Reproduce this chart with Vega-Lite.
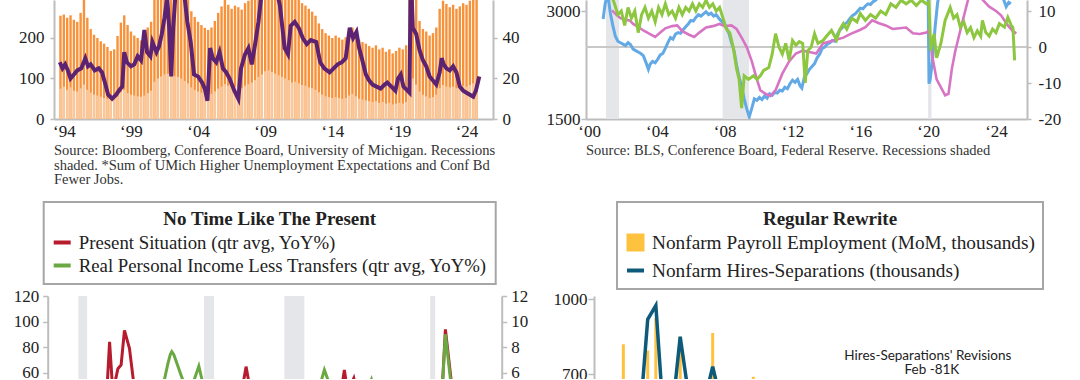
{
 "$schema": "https://vega.github.io/schema/vega-lite/v6.json",
 "padding": {"left": 13, "top": 0, "right": 0, "bottom": -4},
 "background": "white",
 "config": {
  "view": {"stroke": null},
  "font": "Liberation Serif",
  "axis": {"labelFont": "Liberation Serif", "labelFontSize": 17, "labelColor": "#222222", "domainColor": "#BDBDBD", "domainWidth": 2, "tickColor": "#BDBDBD", "tickWidth": 1.5, "grid": false, "labelOverlap": false, "labelFlush": false},
  "legend": {"labelFont": "Liberation Serif", "labelFontSize": 18.8, "labelColor": "#222222", "labelLimit": 1000, "titleFont": "Liberation Serif", "titleFontSize": 19, "titleFontWeight": "bold", "titleColor": "#222222", "titleLimit": 1000, "titleAnchor": "middle", "titlePadding": 3, "padding": 8, "rowPadding": 2, "strokeColor": "#A6A6A6", "fillColor": "white", "symbolStrokeWidth": 4, "symbolSize": 289, "labelOffset": 6, "direction": "vertical"}
 },
 "resolve": {"scale": {"color": "independent"}, "legend": {"color": "independent"}},
 "datasets": {
  "tlb": [
   {"t":1993.75,"tot":255,"low":75},{"t":1994.0,"tot":258,"low":80},{"t":1994.25,"tot":250,"low":72},{"t":1994.5,"tot":256,"low":78},{"t":1994.75,"tot":245,"low":70},
   {"t":1995.0,"tot":240,"low":68},{"t":1995.25,"tot":262,"low":76},{"t":1995.5,"tot":300,"low":85},{"t":1995.75,"tot":250,"low":72},
   {"t":1996.0,"tot":222,"low":65},{"t":1996.25,"tot":208,"low":60},{"t":1996.5,"tot":200,"low":58},{"t":1996.75,"tot":192,"low":55},
   {"t":1997.0,"tot":186,"low":52},{"t":1997.25,"tot":178,"low":50},{"t":1997.5,"tot":168,"low":46},{"t":1997.75,"tot":172,"low":48},
   {"t":1998.0,"tot":205,"low":56},{"t":1998.25,"tot":238,"low":66},{"t":1998.5,"tot":256,"low":72},{"t":1998.75,"tot":232,"low":64},
   {"t":1999.0,"tot":216,"low":60},{"t":1999.25,"tot":206,"low":58},{"t":1999.5,"tot":200,"low":56},{"t":1999.75,"tot":194,"low":55},
   {"t":2000.0,"tot":206,"low":58},{"t":2000.25,"tot":226,"low":64},{"t":2000.5,"tot":240,"low":70},{"t":2000.75,"tot":310,"low":92},
   {"t":2001.0,"tot":330,"low":100},{"t":2001.25,"tot":340,"low":105},{"t":2001.5,"tot":350,"low":110},{"t":2001.75,"tot":360,"low":112},
   {"t":2002.0,"tot":340,"low":108},{"t":2002.25,"tot":345,"low":106},{"t":2002.5,"tot":350,"low":104},{"t":2002.75,"tot":330,"low":100},
   {"t":2003.0,"tot":310,"low":94},{"t":2003.25,"tot":295,"low":88},{"t":2003.5,"tot":266,"low":78},{"t":2003.75,"tot":252,"low":72},
   {"t":2004.0,"tot":240,"low":68},{"t":2004.25,"tot":232,"low":65},{"t":2004.5,"tot":225,"low":62},{"t":2004.75,"tot":220,"low":60},
   {"t":2005.0,"tot":226,"low":62},{"t":2005.25,"tot":242,"low":68},{"t":2005.5,"tot":262,"low":75},{"t":2005.75,"tot":278,"low":80},
   {"t":2006.0,"tot":296,"low":86},{"t":2006.25,"tot":282,"low":82},{"t":2006.5,"tot":272,"low":78},{"t":2006.75,"tot":280,"low":80},
   {"t":2007.0,"tot":276,"low":78},{"t":2007.25,"tot":270,"low":76},{"t":2007.5,"tot":286,"low":82},{"t":2007.75,"tot":292,"low":86},
   {"t":2008.0,"tot":305,"low":90},{"t":2008.25,"tot":320,"low":96},{"t":2008.5,"tot":340,"low":104},{"t":2008.75,"tot":360,"low":110},
   {"t":2009.0,"tot":380,"low":118},{"t":2009.25,"tot":380,"low":120},{"t":2009.5,"tot":370,"low":116},{"t":2009.75,"tot":360,"low":112},
   {"t":2010.0,"tot":350,"low":108},{"t":2010.25,"tot":340,"low":104},{"t":2010.5,"tot":330,"low":100},{"t":2010.75,"tot":320,"low":96},
   {"t":2011.0,"tot":300,"low":90},{"t":2011.25,"tot":305,"low":92},{"t":2011.5,"tot":296,"low":88},{"t":2011.75,"tot":286,"low":84},
   {"t":2012.0,"tot":280,"low":82},{"t":2012.25,"tot":272,"low":78},{"t":2012.5,"tot":265,"low":76},{"t":2012.75,"tot":255,"low":72},
   {"t":2013.0,"tot":236,"low":66},{"t":2013.25,"tot":222,"low":60},{"t":2013.5,"tot":212,"low":56},{"t":2013.75,"tot":206,"low":54},
   {"t":2014.0,"tot":200,"low":52},{"t":2014.25,"tot":206,"low":54},{"t":2014.5,"tot":201,"low":52},{"t":2014.75,"tot":196,"low":50},
   {"t":2015.0,"tot":202,"low":52},{"t":2015.25,"tot":216,"low":58},{"t":2015.5,"tot":226,"low":62},{"t":2015.75,"tot":208,"low":56},
   {"t":2016.0,"tot":196,"low":50},{"t":2016.25,"tot":190,"low":48},{"t":2016.5,"tot":186,"low":46},{"t":2016.75,"tot":180,"low":44},
   {"t":2017.0,"tot":176,"low":42},{"t":2017.25,"tot":182,"low":44},{"t":2017.5,"tot":172,"low":40},{"t":2017.75,"tot":176,"low":42},
   {"t":2018.0,"tot":166,"low":38},{"t":2018.25,"tot":172,"low":40},{"t":2018.5,"tot":162,"low":36},{"t":2018.75,"tot":168,"low":38},
   {"t":2019.0,"tot":176,"low":40},{"t":2019.25,"tot":172,"low":38},{"t":2019.5,"tot":182,"low":42},{"t":2019.75,"tot":300,"low":80},
   {"t":2020.0,"tot":340,"low":100},{"t":2020.25,"tot":296,"low":85},{"t":2020.5,"tot":242,"low":68},{"t":2020.75,"tot":222,"low":60},
   {"t":2021.0,"tot":216,"low":56},{"t":2021.25,"tot":206,"low":52},{"t":2021.5,"tot":212,"low":54},{"t":2021.75,"tot":226,"low":60},
   {"t":2022.0,"tot":272,"low":76},{"t":2022.25,"tot":292,"low":84},{"t":2022.5,"tot":284,"low":80},{"t":2022.75,"tot":276,"low":78},
   {"t":2023.0,"tot":282,"low":80},{"t":2023.25,"tot":272,"low":76},{"t":2023.5,"tot":278,"low":78},{"t":2023.75,"tot":286,"low":82},
   {"t":2024.0,"tot":282,"low":80},{"t":2024.25,"tot":292,"low":84},{"t":2024.5,"tot":300,"low":88},{"t":2024.75,"tot":310,"low":92}
  ],
  "tll": [
   {"t":1993.7,"v":28},{"t":1993.9,"v":25},{"t":1994.1,"v":27},{"t":1994.3,"v":24},{"t":1994.5,"v":20},{"t":1994.75,"v":22},
   {"t":1995.0,"v":24},{"t":1995.3,"v":25},{"t":1995.6,"v":30},{"t":1995.8,"v":26},{"t":1996.0,"v":27},{"t":1996.3,"v":24},
   {"t":1996.6,"v":25},{"t":1996.85,"v":23},{"t":1997.1,"v":17},{"t":1997.3,"v":12},{"t":1997.6,"v":10},{"t":1997.9,"v":12},
   {"t":1998.1,"v":14},{"t":1998.35,"v":16},{"t":1998.5,"v":33},{"t":1998.7,"v":28},{"t":1999.0,"v":26},{"t":1999.25,"v":27},
   {"t":1999.5,"v":31},{"t":1999.75,"v":29},{"t":2000.0,"v":44},{"t":2000.2,"v":33},{"t":2000.45,"v":31},{"t":2000.6,"v":38},
   {"t":2000.9,"v":33},{"t":2001.1,"v":36},{"t":2001.3,"v":42},{"t":2001.5,"v":50},{"t":2001.7,"v":60},{"t":2001.85,"v":45},
   {"t":2002.0,"v":21},{"t":2002.15,"v":45},{"t":2002.3,"v":60},{"t":2002.6,"v":64},{"t":2003.0,"v":60},{"t":2003.2,"v":48},
   {"t":2003.45,"v":38},{"t":2003.7,"v":22},{"t":2004.0,"v":21},{"t":2004.3,"v":18},{"t":2004.5,"v":15},{"t":2004.7,"v":9},
   {"t":2004.9,"v":35},{"t":2005.1,"v":30},{"t":2005.35,"v":28},{"t":2005.6,"v":33},{"t":2005.85,"v":25},{"t":2006.1,"v":23},
   {"t":2006.35,"v":20},{"t":2006.7,"v":14},{"t":2007.0,"v":10},{"t":2007.2,"v":25},{"t":2007.5,"v":32},{"t":2007.75,"v":35},
   {"t":2008.0,"v":27},{"t":2008.25,"v":37},{"t":2008.5,"v":48},{"t":2008.7,"v":60},{"t":2009.0,"v":68},{"t":2009.5,"v":70},
   {"t":2009.9,"v":62},{"t":2010.1,"v":56},{"t":2010.2,"v":50},{"t":2010.45,"v":35},{"t":2010.7,"v":32},{"t":2010.9,"v":46},
   {"t":2011.2,"v":48},{"t":2011.5,"v":45},{"t":2011.8,"v":40},{"t":2012.1,"v":37},{"t":2012.4,"v":39},{"t":2012.8,"v":38},
   {"t":2013.1,"v":28},{"t":2013.4,"v":25},{"t":2013.8,"v":23},{"t":2014.1,"v":25},{"t":2014.4,"v":27},{"t":2014.7,"v":28},
   {"t":2015.0,"v":30},{"t":2015.3,"v":45},{"t":2015.55,"v":40},{"t":2015.8,"v":43},{"t":2016.0,"v":35},{"t":2016.2,"v":30},
   {"t":2016.5,"v":22},{"t":2016.75,"v":19},{"t":2017.0,"v":17},{"t":2017.3,"v":16},{"t":2017.6,"v":15},{"t":2017.9,"v":17},
   {"t":2018.1,"v":18},{"t":2018.4,"v":16},{"t":2018.7,"v":14},{"t":2018.9,"v":20},{"t":2019.1,"v":22},{"t":2019.3,"v":16},
   {"t":2019.6,"v":14},{"t":2019.75,"v":13},{"t":2019.85,"v":72},{"t":2020.0,"v":45},{"t":2020.25,"v":42},{"t":2020.5,"v":34},
   {"t":2020.75,"v":29},{"t":2021.0,"v":26},{"t":2021.25,"v":21},{"t":2021.5,"v":19},{"t":2021.75,"v":17},{"t":2022.0,"v":23},
   {"t":2022.15,"v":30},{"t":2022.3,"v":27},{"t":2022.5,"v":25},{"t":2022.75,"v":24},{"t":2023.0,"v":26},{"t":2023.25,"v":23},
   {"t":2023.5,"v":16},{"t":2023.75,"v":14},{"t":2024.0,"v":13},{"t":2024.25,"v":12},{"t":2024.5,"v":11},{"t":2024.7,"v":14},{"t":2024.95,"v":21}
  ],
  "trrec": [{"s":2001.0,"e":2001.77},{"s":2007.88,"e":2009.43},{"s":2020.0,"e":2020.2}],
  "trgrid": [{"g":2500}],
  "trb": [
   {"t":2000.83,"v":2890},{"t":2000.95,"v":3100},{"t":2001.1,"v":3250},{"t":2001.25,"v":2980},{"t":2001.4,"v":2800},{"t":2001.55,"v":2650},
   {"t":2001.7,"v":2580},{"t":2001.85,"v":2560},{"t":2002.0,"v":2540},{"t":2002.15,"v":2520},{"t":2002.3,"v":2560},{"t":2002.45,"v":2530},
   {"t":2002.6,"v":2470},{"t":2002.75,"v":2450},{"t":2002.9,"v":2430},{"t":2003.05,"v":2410},{"t":2003.2,"v":2380},{"t":2003.35,"v":2290},
   {"t":2003.5,"v":2190},{"t":2003.6,"v":2260},{"t":2003.75,"v":2300},{"t":2003.9,"v":2280},{"t":2004.05,"v":2330},{"t":2004.2,"v":2390},
   {"t":2004.35,"v":2410},{"t":2004.5,"v":2480},{"t":2004.65,"v":2560},{"t":2004.8,"v":2630},{"t":2004.95,"v":2610},{"t":2005.1,"v":2680},
   {"t":2005.25,"v":2700},{"t":2005.4,"v":2690},{"t":2005.55,"v":2740},{"t":2005.7,"v":2780},{"t":2005.85,"v":2820},{"t":2006.0,"v":2870},
   {"t":2006.15,"v":2860},{"t":2006.3,"v":2910},{"t":2006.45,"v":2950},{"t":2006.6,"v":2930},{"t":2006.75,"v":2960},{"t":2006.9,"v":2990},
   {"t":2007.05,"v":2950},{"t":2007.2,"v":2970},{"t":2007.35,"v":2930},{"t":2007.5,"v":2950},{"t":2007.65,"v":2900},{"t":2007.8,"v":2860},
   {"t":2007.95,"v":2830},{"t":2008.1,"v":2760},{"t":2008.25,"v":2690},{"t":2008.4,"v":2560},{"t":2008.55,"v":2450},{"t":2008.7,"v":2250},
   {"t":2008.85,"v":2080},{"t":2009.0,"v":1950},{"t":2009.15,"v":1780},{"t":2009.3,"v":1640},{"t":2009.45,"v":1530},{"t":2009.6,"v":1650},
   {"t":2009.75,"v":1780},{"t":2009.9,"v":1760},{"t":2010.05,"v":1800},{"t":2010.2,"v":1770},{"t":2010.35,"v":1820},{"t":2010.5,"v":1790},
   {"t":2010.65,"v":1850},{"t":2010.8,"v":1830},{"t":2010.95,"v":1870},{"t":2011.1,"v":1860},{"t":2011.25,"v":1900},{"t":2011.4,"v":1890},
   {"t":2011.55,"v":1940},{"t":2011.7,"v":1920},{"t":2011.85,"v":1990},{"t":2012.0,"v":2040},{"t":2012.15,"v":2010},{"t":2012.3,"v":2050},
   {"t":2012.45,"v":1960},{"t":2012.55,"v":1930},{"t":2012.7,"v":2080},{"t":2012.85,"v":2130},{"t":2013.0,"v":2190},{"t":2013.15,"v":2230},
   {"t":2013.3,"v":2270},{"t":2013.45,"v":2350},{"t":2013.6,"v":2400},{"t":2013.75,"v":2480},{"t":2013.9,"v":2500},{"t":2014.05,"v":2540},
   {"t":2014.2,"v":2560},{"t":2014.35,"v":2590},{"t":2014.5,"v":2580},{"t":2014.65,"v":2680},{"t":2014.8,"v":2740},{"t":2014.95,"v":2770},
   {"t":2015.1,"v":2820},{"t":2015.25,"v":2850},{"t":2015.4,"v":2900},{"t":2015.55,"v":2940},{"t":2015.7,"v":2960},{"t":2015.85,"v":3000},
   {"t":2016.0,"v":3040},{"t":2016.15,"v":3030},{"t":2016.3,"v":3070},{"t":2016.45,"v":3100},{"t":2016.6,"v":3090},{"t":2016.75,"v":3130},
   {"t":2016.9,"v":3150},{"t":2017.1,"v":3200},{"t":2017.5,"v":3280},{"t":2018.0,"v":3350},{"t":2018.5,"v":3380},{"t":2019.0,"v":3420},
   {"t":2019.5,"v":3400},{"t":2019.85,"v":3350},{"t":2020.0,"v":3200},{"t":2020.05,"v":1990},{"t":2020.12,"v":2050},{"t":2020.25,"v":2300},
   {"t":2020.4,"v":2750},{"t":2020.55,"v":3100},{"t":2020.75,"v":3400},{"t":2021.5,"v":3700},{"t":2022.5,"v":3800},{"t":2023.5,"v":3600},
   {"t":2024.2,"v":3300},{"t":2024.45,"v":3160},{"t":2024.6,"v":3060},{"t":2024.75,"v":3120},{"t":2024.88,"v":3100}
  ],
  "trp": [
   {"t":2001.35,"v":3010},{"t":2001.6,"v":2950},{"t":2001.85,"v":2900},{"t":2002.1,"v":2880},{"t":2002.4,"v":2870},{"t":2002.6,"v":2820},
   {"t":2002.9,"v":2780},{"t":2003.2,"v":2730},{"t":2003.6,"v":2680},{"t":2003.9,"v":2640},{"t":2004.2,"v":2700},{"t":2004.5,"v":2760},
   {"t":2004.9,"v":2790},{"t":2005.2,"v":2800},{"t":2005.5,"v":2720},{"t":2005.9,"v":2670},{"t":2006.2,"v":2640},{"t":2006.5,"v":2700},
   {"t":2006.9,"v":2770},{"t":2007.3,"v":2790},{"t":2007.7,"v":2820},{"t":2008.0,"v":2790},{"t":2008.4,"v":2800},{"t":2008.7,"v":2750},
   {"t":2009.0,"v":2630},{"t":2009.3,"v":2500},{"t":2009.6,"v":2300},{"t":2009.9,"v":2050},{"t":2010.1,"v":1900},{"t":2010.4,"v":1850},
   {"t":2010.7,"v":1820},{"t":2011.0,"v":1900},{"t":2011.4,"v":2130},{"t":2011.8,"v":2300},{"t":2012.2,"v":2410},{"t":2012.6,"v":2450},
   {"t":2013.0,"v":2430},{"t":2013.4,"v":2410},{"t":2013.8,"v":2550},{"t":2014.4,"v":2590},{"t":2015.0,"v":2630},{"t":2015.4,"v":2680},
   {"t":2016.0,"v":2740},{"t":2016.3,"v":2775},{"t":2016.7,"v":2870},{"t":2017.1,"v":2830},{"t":2017.5,"v":2800},{"t":2017.9,"v":2750},
   {"t":2018.3,"v":2760},{"t":2018.7,"v":2770},{"t":2019.1,"v":2690},{"t":2019.5,"v":2680},{"t":2019.9,"v":2700},{"t":2020.05,"v":2730},
   {"t":2020.25,"v":2360},{"t":2020.5,"v":2050},{"t":2020.8,"v":1920},{"t":2021.0,"v":1830},{"t":2021.2,"v":1850},{"t":2021.4,"v":2200},
   {"t":2021.6,"v":2445},{"t":2022.0,"v":2830},{"t":2022.4,"v":3200},{"t":2022.8,"v":3400},{"t":2023.2,"v":3160},{"t":2023.6,"v":3060},
   {"t":2024.0,"v":3000},{"t":2024.3,"v":2940},{"t":2024.7,"v":2800},{"t":2025.0,"v":2720},{"t":2025.2,"v":2690}
  ],
  "trg": [
   {"t":2001.35,"v":14},{"t":2001.5,"v":12},{"t":2001.7,"v":9},{"t":2001.9,"v":10},{"t":2002.1,"v":6},{"t":2002.3,"v":11},{"t":2002.5,"v":8},
   {"t":2002.7,"v":10},{"t":2002.9,"v":4},{"t":2003.1,"v":9},{"t":2003.3,"v":11},{"t":2003.5,"v":8},{"t":2003.7,"v":10},{"t":2003.9,"v":7},
   {"t":2004.1,"v":11},{"t":2004.3,"v":9},{"t":2004.5,"v":12},{"t":2004.7,"v":9},{"t":2004.9,"v":10},{"t":2005.1,"v":8},{"t":2005.3,"v":11},
   {"t":2005.5,"v":9},{"t":2005.7,"v":11},{"t":2005.9,"v":10},{"t":2006.1,"v":12},{"t":2006.3,"v":10},{"t":2006.5,"v":12},{"t":2006.7,"v":11},
   {"t":2006.9,"v":13},{"t":2007.1,"v":11},{"t":2007.3,"v":12},{"t":2007.5,"v":10},{"t":2007.7,"v":11},{"t":2007.9,"v":8},{"t":2008.1,"v":5},
   {"t":2008.3,"v":4},{"t":2008.5,"v":0},{"t":2008.7,"v":-6},{"t":2008.85,"v":-9},{"t":2009.0,"v":-17},{"t":2009.15,"v":-8},{"t":2009.4,"v":-9},
   {"t":2009.7,"v":-8},{"t":2009.9,"v":-9},{"t":2010.1,"v":-8},{"t":2010.3,"v":-6.5},{"t":2010.6,"v":-5.7},{"t":2010.8,"v":-2},{"t":2011.0,"v":3.7},
   {"t":2011.2,"v":0},{"t":2011.4,"v":-2},{"t":2011.6,"v":1},{"t":2011.8,"v":-3.7},{"t":2012.0,"v":1.8},{"t":2012.2,"v":0.5},{"t":2012.4,"v":1.5},
   {"t":2012.6,"v":1},{"t":2012.75,"v":-10},{"t":2012.9,"v":-1},{"t":2013.1,"v":0},{"t":2013.3,"v":3.7},{"t":2013.5,"v":1},{"t":2013.8,"v":1.8},
   {"t":2014.0,"v":3},{"t":2014.3,"v":4.6},{"t":2014.6,"v":2},{"t":2014.8,"v":5},{"t":2015.0,"v":6.5},{"t":2015.2,"v":5},{"t":2015.5,"v":8},
   {"t":2015.8,"v":7},{"t":2016.0,"v":9.3},{"t":2016.3,"v":7.4},{"t":2016.6,"v":9},{"t":2016.9,"v":8},{"t":2017.2,"v":10},{"t":2017.5,"v":9},
   {"t":2017.8,"v":12},{"t":2018.1,"v":11},{"t":2018.4,"v":13},{"t":2018.7,"v":12},{"t":2019.0,"v":13},{"t":2019.3,"v":11.5},{"t":2019.6,"v":13},
   {"t":2019.9,"v":12},{"t":2020.05,"v":12.5},{"t":2020.15,"v":-1},{"t":2020.35,"v":3.7},{"t":2020.5,"v":-3},{"t":2020.75,"v":1},{"t":2021.0,"v":7.4},
   {"t":2021.3,"v":11},{"t":2021.5,"v":8},{"t":2021.7,"v":9},{"t":2021.9,"v":5.5},{"t":2022.1,"v":7},{"t":2022.3,"v":4},{"t":2022.5,"v":5.4},
   {"t":2022.7,"v":2.6},{"t":2022.9,"v":4.5},{"t":2023.1,"v":3},{"t":2023.2,"v":7.4},{"t":2023.4,"v":4},{"t":2023.6,"v":3},{"t":2023.8,"v":5},
   {"t":2024.0,"v":4},{"t":2024.2,"v":6.5},{"t":2024.5,"v":5.5},{"t":2024.7,"v":8.2},{"t":2024.9,"v":6},{"t":2025.0,"v":5.4},{"t":2025.1,"v":-3.7}
  ],
  "blrec": [{"s":1990.58,"e":1991.31},{"s":2001.14,"e":2001.98},{"s":2007.89,"e":2009.57},{"s":2020.14,"e":2020.56}],
  "blr": [
   {"t":1988.0,"v":20},{"t":1990.0,"v":10},{"t":1991.0,"v":-20},{"t":1992.0,"v":10},{"t":1992.75,"v":45},{"t":1993.0,"v":50},{"t":1993.2,"v":84},
   {"t":1993.45,"v":48},{"t":1993.6,"v":50},{"t":1993.9,"v":63},{"t":1994.17,"v":66},{"t":1994.45,"v":93},{"t":1994.87,"v":79},{"t":1995.25,"v":50},
   {"t":1996.0,"v":20},{"t":1998.0,"v":10},{"t":2000.0,"v":5},{"t":2002.0,"v":-20},{"t":2004.0,"v":30},{"t":2004.4,"v":50},{"t":2004.67,"v":64.6},
   {"t":2004.95,"v":50},{"t":2006.0,"v":20},{"t":2008.0,"v":0},{"t":2010.0,"v":10},{"t":2012.0,"v":30},{"t":2012.7,"v":48},{"t":2012.93,"v":62},
   {"t":2013.15,"v":48},{"t":2013.45,"v":50},{"t":2013.72,"v":55.5},{"t":2013.95,"v":45},{"t":2015.0,"v":20},{"t":2017.0,"v":25},{"t":2019.0,"v":15},
   {"t":2020.5,"v":-60},{"t":2021.17,"v":50},{"t":2021.42,"v":93.8},{"t":2021.95,"v":50},{"t":2022.5,"v":-20},{"t":2024.0,"v":5},{"t":2025.0,"v":0}
  ],
  "blg": [
   {"t":1988.6,"v":3},{"t":1990.0,"v":1},{"t":1991.0,"v":-1},{"t":1993.0,"v":3},{"t":1995.0,"v":3.5},{"t":1997.0,"v":4},{"t":1997.8,"v":5.4},
   {"t":1998.1,"v":6.7},{"t":1998.3,"v":7.4},{"t":1998.43,"v":7.63},{"t":1998.6,"v":7.4},{"t":1998.9,"v":6.6},{"t":1999.2,"v":5.8},{"t":1999.4,"v":5.3},
   {"t":2000.0,"v":5},{"t":2000.3,"v":5.4},{"t":2000.7,"v":6.5},{"t":2001.0,"v":5.3},{"t":2001.5,"v":2},{"t":2002.5,"v":-1},{"t":2004.0,"v":3},
   {"t":2006.0,"v":4},{"t":2008.0,"v":1},{"t":2009.5,"v":-4},{"t":2010.5,"v":2},{"t":2010.97,"v":5.3},{"t":2011.25,"v":6.2},{"t":2011.6,"v":5.3},
   {"t":2013.0,"v":3},{"t":2014.5,"v":4},{"t":2015.2,"v":5.45},{"t":2015.6,"v":4},{"t":2017.0,"v":3},{"t":2019.0,"v":3},{"t":2020.3,"v":-8},
   {"t":2021.17,"v":5.0},{"t":2021.42,"v":9.0},{"t":2021.9,"v":5.0},{"t":2023.0,"v":2},{"t":2025.0,"v":1}
  ],
  "brb": [
   {"j":0,"v":240},{"j":1,"v":310},{"j":2,"v":420},{"j":3,"v":820},{"j":4,"v":560},{"j":5,"v":470},{"j":6,"v":795},{"j":7,"v":925},
   {"j":8,"v":610},{"j":9,"v":520},{"j":10,"v":850},{"j":11,"v":430},{"j":12,"v":560},{"j":13,"v":470},{"j":14,"v":865},{"j":15,"v":380},
   {"j":16,"v":420},{"j":17,"v":310},{"j":18,"v":500},{"j":19,"v":690},{"j":20,"v":350},{"j":21,"v":280},{"j":22,"v":330},{"j":23,"v":260},
   {"j":24,"v":300},{"j":25,"v":240},{"j":26,"v":270},{"j":27,"v":220},{"j":28,"v":250},{"j":29,"v":200},{"j":30,"v":230},{"j":31,"v":190},
   {"j":32,"v":210},{"j":33,"v":180},{"j":34,"v":220},{"j":35,"v":160},{"j":36,"v":190},{"j":37,"v":150},{"j":38,"v":170},{"j":39,"v":140},
   {"j":40,"v":160},{"j":41,"v":120},{"j":42,"v":150},{"j":43,"v":130},{"j":44,"v":110},{"j":45,"v":140},{"j":46,"v":100},{"j":47,"v":120},
   {"j":48,"v":90},{"j":49,"v":110},{"j":50,"v":80},{"j":51,"v":100},{"j":52,"v":90},{"j":53,"v":70}
  ],
  "brl": [
   {"j":0,"v":300},{"j":1,"v":350},{"j":2,"v":420},{"j":3,"v":450},{"j":4,"v":400},{"j":5,"v":510},{"j":6,"v":920},{"j":7,"v":975},
   {"j":8,"v":500},{"j":9,"v":540},{"j":10,"v":850},{"j":11,"v":624},{"j":12,"v":480},{"j":13,"v":595},{"j":14,"v":730},{"j":15,"v":595},
   {"j":16,"v":400},{"j":17,"v":450},{"j":18,"v":380},{"j":19,"v":420},{"j":20,"v":350},{"j":22,"v":300},{"j":24,"v":320},{"j":26,"v":280},
   {"j":28,"v":300},{"j":30,"v":260},{"j":32,"v":250},{"j":34,"v":230},{"j":36,"v":220},{"j":38,"v":200},{"j":40,"v":210},{"j":42,"v":190},
   {"j":44,"v":180},{"j":46,"v":170},{"j":48,"v":160},{"j":50,"v":150},{"j":52,"v":140},{"j":53,"v":130}
  ],
  "brt": [
   {"j":40.5,"v":775,"t":"Hires-Separations' Revisions"},
   {"j":41.0,"v":718,"t":"Feb -81K"}
  ]
 },
 "spacing": 14,
 "vconcat": [
  {
   "spacing": 27,
   "hconcat": [
    {
     "width": 439, "height": 119,
     "title": {"text": ["Source: Bloomberg, Conference Board, University of Michigan. Recessions", "shaded. *Sum of UMich Higher Unemployment Expectations and Conf Bd", "Fewer Jobs."], "orient": "bottom", "anchor": "start", "frame": "group", "font": "Liberation Serif", "fontSize": 14.5, "fontWeight": "normal", "lineHeight": 14.5, "offset": 5, "color": "#333333"},
     "layer": [
      {
       "layer": [
        {
         "data": {"name": "tlb"},
         "mark": {"type": "bar", "orient": "vertical", "color": "#F7923A", "size": 2.4, "clip": true},
         "encoding": {
          "x": {"field": "t", "type": "quantitative", "scale": {"domain": [1993.64, 2025.6], "nice": false, "zero": false},
                "axis": {"values": [1994, 1999, 2004, 2009, 2014, 2019, 2024], "labelExpr": "'‘' + substring(toString(datum.value), 2, 4)", "ticks": false, "labelPadding": 4, "title": null}},
          "y": {"field": "tot", "type": "quantitative", "scale": {"domain": [0, 293.8], "nice": false, "zero": false},
                "axis": {"orient": "left", "values": [0, 100, 200], "labelExpr": "toString(datum.value)", "tickSize": 4, "labelPadding": 6, "title": null}}
         }
        },
        {
         "data": {"name": "tlb"},
         "mark": {"type": "bar", "orient": "vertical", "color": "#FAC79A", "size": 2.4, "clip": true},
         "encoding": {
          "x": {"field": "t", "type": "quantitative"},
          "y": {"field": "low", "type": "quantitative"}
         }
        }
       ]
      },
      {
       "data": {"name": "tll"},
       "mark": {"type": "line", "color": "#5B2372", "strokeWidth": 4, "clip": true},
       "encoding": {
        "x": {"field": "t", "type": "quantitative"},
        "y": {"field": "v", "type": "quantitative", "scale": {"domain": [0, 58.76], "nice": false, "zero": false},
              "axis": {"orient": "right", "values": [0, 20, 40], "labelExpr": "toString(datum.value)", "tickSize": 4, "labelPadding": 5, "title": null}}
       }
      }
     ],
     "resolve": {"scale": {"y": "independent"}}
    },
    {
     "width": 441, "height": 119,
     "title": {"text": "Source: BLS, Conference Board, Federal Reserve. Recessions shaded", "orient": "bottom", "anchor": "start", "frame": "group", "font": "Liberation Serif", "fontSize": 14.5, "fontWeight": "normal", "offset": 5, "color": "#333333"},
     "layer": [
      {
       "layer": [
        {
         "data": {"name": "trrec"},
         "mark": {"type": "rect", "color": "#E4E6EA"},
         "encoding": {
          "x": {"field": "s", "type": "quantitative", "scale": {"domain": [1999.82, 2025.83], "nice": false, "zero": false},
                "axis": {"values": [2000, 2004, 2008, 2012, 2016, 2020, 2024], "labelExpr": "'‘' + substring(toString(datum.value), 2, 4)", "ticks": false, "labelPadding": 4, "title": null}},
          "x2": {"field": "e"}
         }
        },
        {
         "data": {"name": "trgrid"},
         "mark": {"type": "rule", "color": "#C8C8C8", "strokeWidth": 2},
         "encoding": {
          "y": {"field": "g", "type": "quantitative", "scale": {"domain": [1500, 3153], "nice": false, "zero": false},
                "axis": {"orient": "left", "values": [1500, 2000, 2500, 3000], "labelExpr": "toString(datum.value)", "tickSize": 5, "labelPadding": 1, "title": null}}
         }
        },
        {
         "data": {"name": "trb"},
         "mark": {"type": "line", "color": "#62A9E6", "strokeWidth": 3, "clip": true},
         "encoding": {"x": {"field": "t", "type": "quantitative"}, "y": {"field": "v", "type": "quantitative"}}
        },
        {
         "data": {"name": "trp"},
         "mark": {"type": "line", "color": "#D775C4", "strokeWidth": 2.6, "clip": true},
         "encoding": {"x": {"field": "t", "type": "quantitative"}, "y": {"field": "v", "type": "quantitative"}}
        }
       ]
      },
      {
       "data": {"name": "trg"},
       "mark": {"type": "line", "color": "#8DC63F", "strokeWidth": 3, "clip": true},
       "encoding": {
        "x": {"field": "t", "type": "quantitative"},
        "y": {"field": "v", "type": "quantitative", "scale": {"domain": [-20, 13.06], "nice": false, "zero": false},
              "axis": {"orient": "right", "values": [-20, -10, 0, 10], "labelExpr": "toString(datum.value)", "tickSize": 4, "labelPadding": 7, "title": null}}
       }
      }
     ],
     "resolve": {"scale": {"y": "independent"}}
    }
   ]
  },
  {
   "spacing": 25,
   "resolve": {"scale": {"color": "independent"}, "legend": {"color": "independent"}},
   "hconcat": [
    {
     "width": 447.7, "height": 84,
     "layer": [
      {
       "layer": [
        {
         "data": {"name": "blrec"},
         "mark": {"type": "rect", "color": "#E4E6EA"},
         "encoding": {
          "x": {"field": "s", "type": "quantitative", "scale": {"domain": [1988.53, 2026.15], "nice": false, "zero": false}, "axis": null},
          "x2": {"field": "e"}
         }
        },
        {
         "data": {"name": "blr"},
         "mark": {"type": "line", "strokeWidth": 3, "clip": true},
         "encoding": {
          "x": {"field": "t", "type": "quantitative", "axis": null},
          "y": {"field": "v", "type": "quantitative", "scale": {"domain": [54.12, 120], "nice": false, "zero": false},
                "axis": {"orient": "left", "offset": 6.3, "values": [60, 80, 100, 120], "labelExpr": "toString(datum.value)", "tickSize": 5, "labelPadding": 4, "title": null}},
          "color": {"datum": "Present Situation (qtr avg, YoY%)", "type": "nominal",
                    "scale": {"domain": ["Present Situation (qtr avg, YoY%)", "Real Personal Income Less Transfers (qtr avg, YoY%)"], "range": ["#B71C2E", "#6AA842"]},
                    "legend": {"orient": "none", "legendX": -10.3, "legendY": -94, "title": "No Time Like The Present", "symbolType": "stroke",
                               "encode": {"legend": {"update": {"strokeWidth": {"value": 2}}}}}}
         }
        }
       ]
      },
      {
       "data": {"name": "blg"},
       "mark": {"type": "line", "strokeWidth": 3, "clip": true},
       "encoding": {
        "x": {"field": "t", "type": "quantitative", "axis": null},
        "y": {"field": "v", "type": "quantitative", "scale": {"domain": [5.412, 12], "nice": false, "zero": false},
              "axis": {"orient": "right", "values": [6, 8, 10, 12], "labelExpr": "toString(datum.value)", "tickSize": 5, "labelPadding": 4, "title": null}},
        "color": {"datum": "Real Personal Income Less Transfers (qtr avg, YoY%)", "type": "nominal"}
       }
      }
     ],
     "resolve": {"scale": {"y": "independent"}}
    },
    {
     "width": 460, "height": 84,
     "layer": [
      {
       "data": {"name": "brb"},
       "mark": {"type": "bar", "orient": "vertical", "size": 3, "clip": true},
       "encoding": {
        "x": {"field": "j", "type": "quantitative", "scale": {"domain": [0, 55.42], "nice": false, "zero": false}, "axis": null},
        "y": {"field": "v", "type": "quantitative", "scale": {"domain": [677, 1013], "nice": false, "zero": false},
              "axis": {"orient": "left", "values": [700, 800, 900, 1000], "labelExpr": "toString(datum.value)", "tickSize": 6, "labelPadding": 1, "title": null}},
        "color": {"datum": "Nonfarm Payroll Employment (MoM, thousands)", "type": "nominal",
                  "scale": {"domain": ["Nonfarm Payroll Employment (MoM, thousands)", "Nonfarm Hires-Separations (thousands)"], "range": ["#FFC23E", "#0E5A7B"]},
                  "legend": {"orient": "none", "legendX": 23, "legendY": -94, "title": "Regular Rewrite", "labelFontSize": 19.3,
                             "encode": {
                              "legend": {"update": {"strokeWidth": {"value": 2}}},
                              "symbols": {"update": {
                               "shape": {"signal": "datum.value === 'Nonfarm Payroll Employment (MoM, thousands)' ? 'square' : 'stroke'"},
                               "fill": {"signal": "datum.value === 'Nonfarm Payroll Employment (MoM, thousands)' ? '#FFC23E' : 'transparent'"},
                               "stroke": {"signal": "datum.value === 'Nonfarm Payroll Employment (MoM, thousands)' ? 'transparent' : '#0E5A7B'"},
                               "strokeWidth": {"value": 4},
                               "size": {"signal": "datum.value === 'Nonfarm Payroll Employment (MoM, thousands)' ? 196 : 289"}
                              }}
                             }}}
       }
      },
      {
       "data": {"name": "brl"},
       "mark": {"type": "line", "strokeWidth": 3.5, "clip": true},
       "encoding": {
        "x": {"field": "j", "type": "quantitative", "axis": null},
        "y": {"field": "v", "type": "quantitative"},
        "color": {"datum": "Nonfarm Hires-Separations (thousands)", "type": "nominal"}
       }
      },
      {
       "data": {"name": "brt"},
       "mark": {"type": "text", "font": "Lato", "fontSize": 13.5, "color": "#222222", "align": "center", "baseline": "middle"},
       "encoding": {
        "x": {"field": "j", "type": "quantitative", "axis": null},
        "y": {"field": "v", "type": "quantitative"},
        "text": {"field": "t"}
       }
      }
     ]
    }
   ]
  }
 ]
}
